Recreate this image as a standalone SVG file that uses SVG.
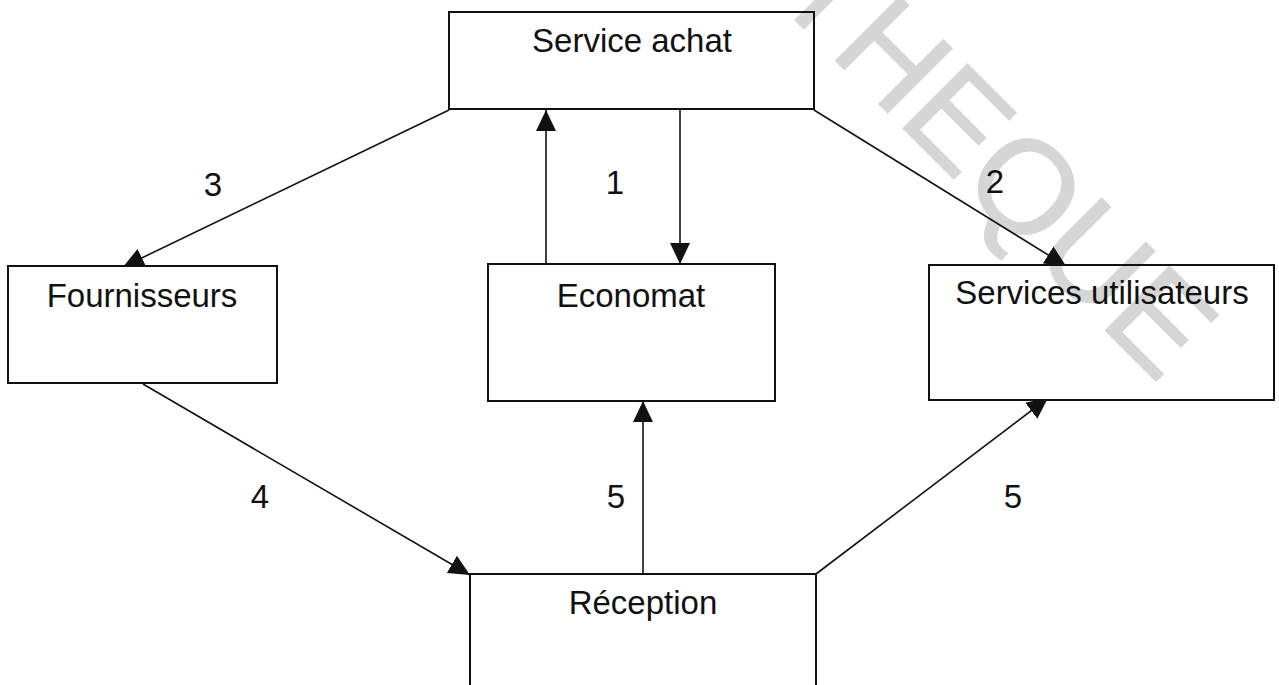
<svg xmlns="http://www.w3.org/2000/svg" width="1279" height="685" viewBox="0 0 1279 685">
  <style>
    .box { fill: none; stroke: #111111; stroke-width: 2; }
    .lbl { font-family: "Liberation Sans", Arial, sans-serif; font-size: 33px; fill: #111111; text-anchor: middle; }
    .num { font-family: "Liberation Sans", Arial, sans-serif; font-size: 33px; fill: #111111; text-anchor: middle; }
    .wire { fill: none; stroke: #111111; stroke-width: 1.6; marker-end: url(#head); }
    .mark { font-family: "Liberation Sans", Arial, sans-serif; font-size: 132px; fill: #d6d6d6; stroke: #d6d6d6; stroke-width: 1.5; }
  </style>
  <defs>
    <marker id="head" markerUnits="userSpaceOnUse" markerWidth="22" markerHeight="22" refX="21" refY="10" orient="auto">
      <path d="M0,0 L21,10 L0,20 Z" fill="#111111"/>
    </marker>
    <!-- arrow tips are hidden where they run into a box -->
    <mask id="outside-boxes" maskUnits="userSpaceOnUse" x="0" y="0" width="1279" height="685">
      <rect x="0" y="0" width="1279" height="685" fill="#ffffff"/>
      <rect x="449" y="12" width="365" height="97" fill="#000000"/>
      <rect x="8" y="266" width="269" height="117" fill="#000000"/>
      <rect x="488" y="264" width="287" height="137" fill="#000000"/>
      <rect x="929" y="265" width="345" height="135" fill="#000000"/>
      <rect x="470" y="574" width="346" height="130" fill="#000000"/>
    </mask>
  </defs>

  <rect x="0" y="0" width="1279" height="685" fill="#ffffff"/>

  <!-- background stamp -->
  <text class="mark" transform="translate(771,-4) rotate(45)">THEQUE</text>

  <!-- flows between services -->
  <g id="connectors" mask="url(#outside-boxes)">
    <line class="wire" x1="449" y1="110" x2="123" y2="267"/>
    <line class="wire" x1="814" y1="110" x2="1066" y2="266"/>
    <line class="wire" x1="546" y1="264" x2="546" y2="110"/>
    <line class="wire" x1="680" y1="110" x2="680" y2="264"/>
    <line class="wire" x1="143" y1="384" x2="470" y2="575"/>
    <line class="wire" x1="643" y1="574" x2="643" y2="401"/>
    <line class="wire" x1="816" y1="574" x2="1048" y2="398"/>
  </g>

  <g id="service-achat">
    <rect class="box" x="449" y="12" width="365" height="97"/>
    <text class="lbl" x="632" y="52">Service achat</text>
  </g>

  <g id="fournisseurs">
    <rect class="box" x="8" y="266" width="269" height="117"/>
    <text class="lbl" x="142" y="307">Fournisseurs</text>
  </g>

  <g id="economat">
    <rect class="box" x="488" y="264" width="287" height="137"/>
    <text class="lbl" x="631" y="307">Economat</text>
  </g>

  <g id="services-utilisateurs">
    <rect class="box" x="929" y="265" width="345" height="135"/>
    <text class="lbl" x="1102" y="304">Services utilisateurs</text>
  </g>

  <g id="reception">
    <rect class="box" x="470" y="574" width="346" height="130"/>
    <text class="lbl" x="643" y="614">Réception</text>
  </g>

  <g id="step-labels">
    <text class="num" x="213" y="196">3</text>
    <text class="num" x="615" y="194">1</text>
    <text class="num" x="995" y="193">2</text>
    <text class="num" x="260" y="508">4</text>
    <text class="num" x="616" y="508">5</text>
    <text class="num" x="1013" y="508">5</text>
  </g>
</svg>
